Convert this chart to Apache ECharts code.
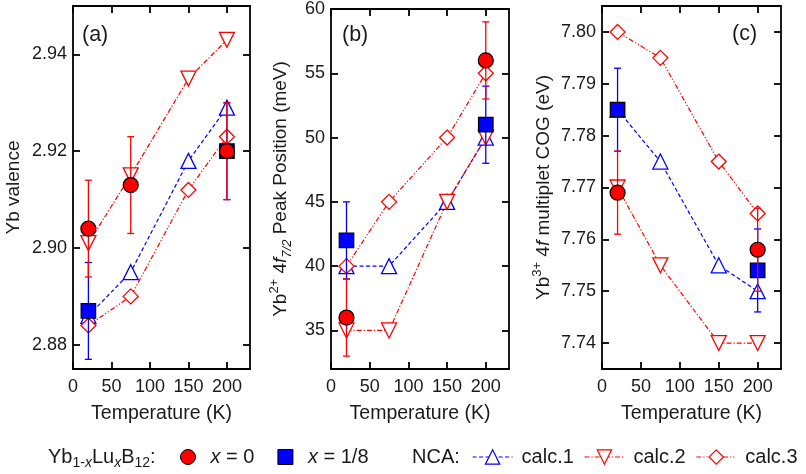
<!DOCTYPE html>
<html><head><meta charset="utf-8">
<script src="https://cdn.jsdelivr.net/npm/echarts@6/dist/echarts.min.js"></script>
<style>html,body{margin:0;padding:0;background:#fff}#c{width:806px;height:474px}</style>
</head><body><div id="c"></div>
<script>
// ---------- data ----------
const temperatures = [20, 75, 150, 200];
const xTicks = [0, 50, 100, 150, 200];

// (a) Yb valence
const aTicks = [2.88, 2.90, 2.92, 2.94];
const aCalc1 = [2.886, 2.895, 2.918, 2.929];
const aCalc2 = [2.901, 2.915, 2.935, 2.943];
const aCalc3 = [2.884, 2.890, 2.912, 2.923];
const aX0Temps = [20, 75, 200];
const aX0 = [2.904, 2.913, 2.920];
const aX0Err = [0.010, 0.010, 0.010];
const aX18Temps = [20, 200];
const aX18 = [2.887, 2.920];
const aX18Err = [0.010, 0.010];

// (b) Yb2+ 4f7/2 peak position (meV)
const bTicks = [35, 40, 45, 50, 55, 60];
const bCalc1 = [40, 40, 45, 50];
const bCalc2 = [35, 35, 45, 50];
const bCalc3 = [40, 45, 50, 55];
const bX0Temps = [20, 200];
const bX0 = [36, 56];
const bX0Err = [3, 3];
const bX18Temps = [20, 200];
const bX18 = [42, 51];
const bX18Err = [3, 3];

// (c) Yb3+ 4f multiplet COG (eV)
const cTicks = [7.74, 7.75, 7.76, 7.77, 7.78, 7.79, 7.80];
const cCalc1 = [7.785, 7.775, 7.755, 7.750];
const cCalc2 = [7.770, 7.755, 7.740, 7.740];
const cCalc3 = [7.800, 7.795, 7.775, 7.765];
const cX0Temps = [20, 200];
const cX0 = [7.769, 7.758];
const cX0Err = [0.008, 0.008];
const cX18Temps = [20, 200];
const cX18 = [7.785, 7.754];
const cX18Err = [0.008, 0.008];

// ---------- styling ----------
const FONT = 'Liberation Sans, Arial, Helvetica, sans-serif';
const TXT = '#1a1a1a';
const RED = '#ff0000';
const BLUE = '#0000ff';
const DASH1 = [4, 2.5];
const DASH2 = [5, 2, 1.2, 2];
const DASH3 = [5, 2, 1.2, 2, 1.2, 2];
const richName = {
  sup: {fontSize: 13, lineHeight: 13, verticalAlign: 'top', fontFamily: FONT, color: TXT},
  i: {fontSize: 19, fontStyle: 'italic', fontFamily: FONT, color: TXT, lineHeight: 26},
  sub: {fontSize: 13, lineHeight: 13, fontStyle: 'italic', verticalAlign: 'bottom', fontFamily: FONT, color: TXT}
};
const nameStyle = {fontSize: 19, fontFamily: FONT, color: TXT, lineHeight: 26, rich: richName};

function xAx(g, pos) {
  return {
    type: 'value', gridIndex: g, position: pos, min: 0, max: 230,
    axisLine: {show: true, onZero: false, lineStyle: {color: '#000', width: 1.8}},
    axisTick: {show: true, inside: true, length: 7, customValues: xTicks, lineStyle: {color: '#000', width: 1.8}},
    axisLabel: {show: pos === 'bottom', customValues: xTicks, margin: 9, fontSize: 18, color: TXT, fontFamily: FONT},
    splitLine: {show: false},
    name: pos === 'bottom' ? 'Temperature (K)' : '',
    nameLocation: 'middle', nameGap: 26, nameTextStyle: Object.assign({}, nameStyle, {fontSize: 19.5})
  };
}
function yAx(g, pos, min, max, ticks, fmt, name, gap) {
  return {
    type: 'value', gridIndex: g, position: pos, min: min, max: max,
    axisLine: {show: true, onZero: false, lineStyle: {color: '#000', width: 1.8}},
    axisTick: {show: true, inside: true, length: 7, customValues: ticks, lineStyle: {color: '#000', width: 1.8}},
    axisLabel: {show: pos === 'left', customValues: ticks, margin: 6, fontSize: 18, color: TXT, fontFamily: FONT, formatter: fmt},
    splitLine: {show: false},
    name: pos === 'left' ? name : '',
    nameLocation: 'middle', nameGap: gap, nameRotate: 90, nameTextStyle: nameStyle
  };
}
function calcSeries(p, name, vals, symbol, rot, color, dash) {
  return {
    type: 'line', name: name, xAxisIndex: 2 * p, yAxisIndex: 2 * p,
    data: temperatures.map((t, i) => [t, vals[i]]),
    symbol: symbol, symbolRotate: rot, symbolSize: 15, showSymbol: true, color: color,
    lineStyle: {color: color, width: 1.2, type: dash},
    itemStyle: {color: '#fff', borderColor: color, borderWidth: 1.3},
    z: 2, animation: false, emphasis: {disabled: true}
  };
}
function errSeries(p, name, ts, vals, errs, color, z) {
  return {
    type: 'custom', name: name, xAxisIndex: 2 * p, yAxisIndex: 2 * p, z: z, silent: true, animation: false,
    data: ts.map((t, i) => [t, vals[i], errs[i]]),
    encode: {x: 0, y: 1},
    renderItem: function (params, api) {
      const x = api.value(0), y = api.value(1), e = api.value(2);
      const a = api.coord([x, y + e]), b = api.coord([x, y - e]);
      const hw = 3.5;
      const st = {stroke: color, lineWidth: 1.3};
      return {type: 'group', children: [
        {type: 'line', shape: {x1: a[0], y1: a[1], x2: b[0], y2: b[1]}, style: st},
        {type: 'line', shape: {x1: a[0] - hw, y1: a[1], x2: a[0] + hw, y2: a[1]}, style: st},
        {type: 'line', shape: {x1: b[0] - hw, y1: b[1], x2: b[0] + hw, y2: b[1]}, style: st}
      ]};
    }
  };
}
function ptSeries(p, name, ts, vals, symbol, color, size, z) {
  return {
    type: 'scatter', name: name, xAxisIndex: 2 * p, yAxisIndex: 2 * p, z: z, animation: false,
    data: ts.map((t, i) => [t, vals[i]]),
    symbol: symbol, symbolSize: size, color: color,
    itemStyle: {color: color, borderColor: '#000', borderWidth: 1.2, opacity: 1},
    emphasis: {disabled: true}
  };
}
function panel(p, c1, c2, c3, x0T, x0, x0E, x18T, x18, x18E) {
  return [
    calcSeries(p, 'calc.1', c1, 'triangle', 0, BLUE, DASH1),
    calcSeries(p, 'calc.2', c2, 'triangle', 180, RED, DASH2),
    calcSeries(p, 'calc.3', c3, 'diamond', 0, RED, DASH3),
    errSeries(p, 'err 1/8', x18T, x18, x18E, BLUE, 3),
    ptSeries(p, 'x = 1/8', x18T, x18, 'rect', BLUE, 14.5, 4),
    errSeries(p, 'err 0', x0T, x0, x0E, RED, 5),
    ptSeries(p, 'x = 0', x0T, x0, 'circle', RED, 15, 6)
  ];
}

const f2 = v => v.toFixed(2);
const f0 = v => String(Math.round(v));

const option = {
  backgroundColor: '#fff',
  animation: false,
  textStyle: {fontFamily: FONT},
  grid: [
    {left: 71, top: 6, width: 179, height: 363},
    {left: 331, top: 6, width: 178, height: 363},
    {left: 602, top: 6, width: 179, height: 363}
  ],
  title: [
    {text: '(a)', left: 82, top: 24, padding: 0, textStyle: {fontSize: 21.5, fontWeight: 'normal', color: TXT, fontFamily: FONT}},
    {text: '(b)', left: 342, top: 24, padding: 0, textStyle: {fontSize: 21.5, fontWeight: 'normal', color: TXT, fontFamily: FONT}},
    {text: '(c)', left: 732, top: 23, padding: 0, textStyle: {fontSize: 21.5, fontWeight: 'normal', color: TXT, fontFamily: FONT}}
  ],
  xAxis: [xAx(0, 'bottom'), xAx(0, 'top'), xAx(1, 'bottom'), xAx(1, 'top'), xAx(2, 'bottom'), xAx(2, 'top')],
  yAxis: [
    yAx(0, 'left', 2.875, 2.95, aTicks, f2, 'Yb valence', 46),
    yAx(0, 'right', 2.875, 2.95, aTicks, f2, '', 0),
    yAx(1, 'left', 32, 60, bTicks, f0, 'Yb{sup|2+} 4{i|f}{sub|7/2} Peak Position (meV)', 37),
    yAx(1, 'right', 32, 60, bTicks, f0, '', 0),
    yAx(2, 'left', 7.735, 7.805, cTicks, f2, 'Yb{sup|3+} 4{i|f} multiplet COG (eV)', 44),
    yAx(2, 'right', 7.735, 7.805, cTicks, f2, '', 0)
  ],
  legend: [
    {
      left: 180, top: 444, padding: 0, itemWidth: 15, itemHeight: 15, itemGap: 23,
      selectedMode: false,
      data: [
        {name: 'x = 0', icon: 'circle', itemStyle: {color: RED, borderColor: '#000', borderWidth: 1}},
        {name: 'x = 1/8', icon: 'rect', itemStyle: {color: BLUE, borderColor: '#000', borderWidth: 1}}
      ],
      formatter: function (n) { return n === 'x = 0' ? '{g| }{i|x} = 0' : '{g| }{i|x} = 1/8'; },
      textStyle: {fontSize: 20, color: TXT, fontFamily: FONT, lineHeight: 26,
        rich: {g: {width: 10}, i: {fontStyle: 'italic', fontSize: 20, fontFamily: FONT, color: TXT}}}
    },
    {
      left: 472, top: 444, padding: 0, itemWidth: 40, itemHeight: 18, itemGap: 10,
      selectedMode: false,
      data: [
        {name: 'calc.1', itemStyle: {color: '#fff', borderColor: BLUE, borderWidth: 1.2}, lineStyle: {color: BLUE, width: 1.2, type: DASH1}},
        {name: 'calc.2', itemStyle: {color: '#fff', borderColor: RED, borderWidth: 1.2}, lineStyle: {color: RED, width: 1.2, type: DASH2}},
        {name: 'calc.3', itemStyle: {color: '#fff', borderColor: RED, borderWidth: 1.2}, lineStyle: {color: RED, width: 1.2, type: DASH3}}
      ],
      formatter: '{g| }{name}',
      textStyle: {fontSize: 20, color: TXT, fontFamily: FONT, lineHeight: 26, rich: {g: {width: 4}}}
    }
  ],
  graphic: [
    {type: 'text', left: 48, top: 444, silent: true, style: {
      text: 'Yb{s|1-}{si|x}Lu{si|x}B{s|12}:', fontSize: 20, fontFamily: FONT, fill: TXT, lineHeight: 26,
      rich: {
        s: {fontSize: 14, lineHeight: 14, verticalAlign: 'bottom', fontFamily: FONT, fill: TXT},
        si: {fontSize: 14, lineHeight: 14, verticalAlign: 'bottom', fontStyle: 'italic', fontFamily: FONT, fill: TXT}
      }}},
    {type: 'text', left: 412, top: 444, silent: true, style: {text: 'NCA:', fontSize: 20, fontFamily: FONT, fill: TXT, lineHeight: 26}}
  ],
  series: [].concat(
    panel(0, aCalc1, aCalc2, aCalc3, aX0Temps, aX0, aX0Err, aX18Temps, aX18, aX18Err),
    panel(1, bCalc1, bCalc2, bCalc3, bX0Temps, bX0, bX0Err, bX18Temps, bX18, bX18Err),
    panel(2, cCalc1, cCalc2, cCalc3, cX0Temps, cX0, cX0Err, cX18Temps, cX18, cX18Err)
  )
};
const chart = echarts.init(document.getElementById('c'), null, {renderer: 'canvas'});
chart.setOption(option);
</script></body></html>
